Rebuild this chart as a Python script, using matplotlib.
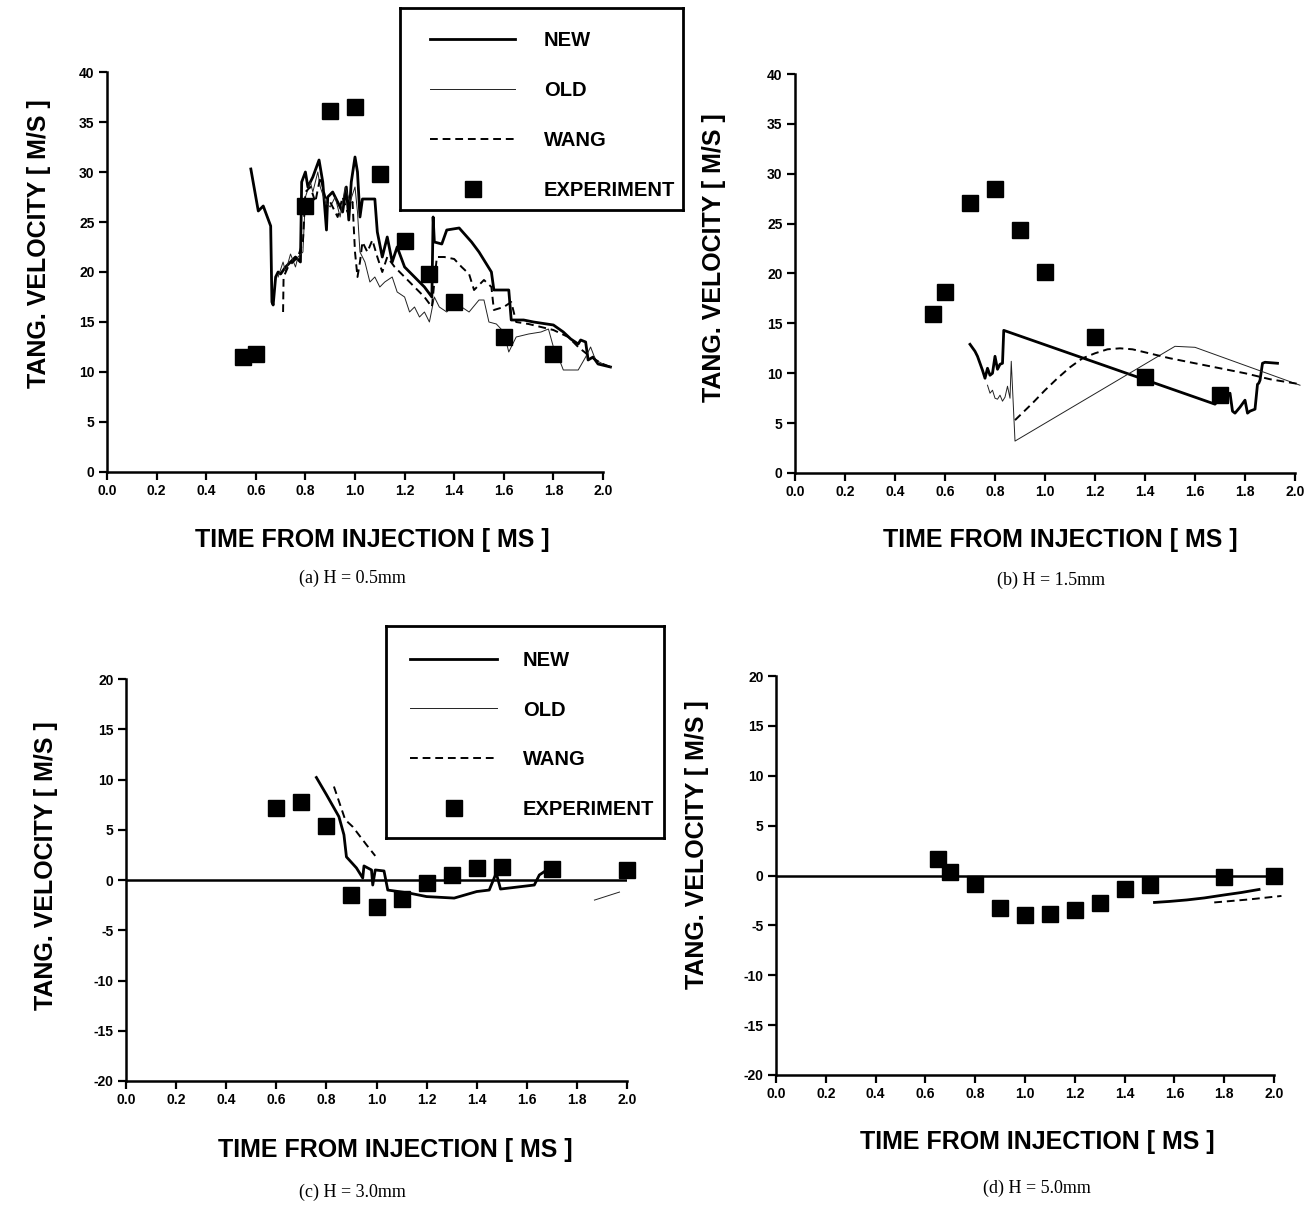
import matplotlib
matplotlib.use("Agg")
import matplotlib.pyplot as plt
from matplotlib.lines import Line2D

W, H = 1314, 1205

# ---------------- data ----------------
x_ticks = [0.0, 0.2, 0.4, 0.6, 0.8, 1.0, 1.2, 1.4, 1.6, 1.8, 2.0]
x_tick_labels = ["0.0", "0.2", "0.4", "0.6", "0.8", "1.0", "1.2", "1.4", "1.6", "1.8", "2.0"]
y_ticks_ab = [0, 5, 10, 15, 20, 25, 30, 35, 40]
y_ticks_cd = [-20, -15, -10, -5, 0, 5, 10, 15, 20]

legend_labels = ["NEW", "OLD", "WANG", "EXPERIMENT"]
captions = ["(a) H = 0.5mm", "(b) H = 1.5mm", "(c) H = 3.0mm", "(d) H = 5.0mm"]
xlabel_text = "TIME FROM INJECTION [ MS ]"
ylabel_text = "TANG. VELOCITY [ M/S ]"

# (a) H = 0.5 mm
a_exp_t = [0.55, 0.60, 0.80, 0.90, 1.00, 1.10, 1.20, 1.30, 1.40, 1.60, 1.80]
a_exp_v = [11.5, 11.8, 26.6, 36.1, 36.5, 29.8, 23.1, 19.8, 17.0, 13.5, 11.8]
a_new_t = [0.58, 0.61, 0.63, 0.66, 0.665, 0.67, 0.68, 0.69, 0.70, 0.72, 0.74, 0.76, 0.78, 0.785,
           0.80, 0.81, 0.83, 0.855, 0.87, 0.885, 0.89, 0.91, 0.93, 0.95, 0.965, 0.975, 0.985,
           1.00, 1.01, 1.02, 1.03, 1.08, 1.09, 1.11, 1.13, 1.15, 1.17, 1.20, 1.24, 1.28, 1.31,
           1.315, 1.32, 1.35, 1.37, 1.42, 1.47, 1.50, 1.55, 1.56, 1.62, 1.63, 1.68, 1.72, 1.80,
           1.84, 1.87, 1.90, 1.91, 1.93, 1.94, 1.96, 1.98, 2.03]
a_new_v = [30.3, 26.1, 26.6, 24.6, 17.0, 16.7, 19.5, 20.0, 19.8, 20.5, 21.0, 21.5, 21.0, 29.0,
           30.0, 28.5, 29.5, 31.2, 29.0, 24.2, 27.5, 28.0, 27.0, 26.0, 28.5, 25.2, 29.0,
           31.5, 30.0, 25.5, 27.3, 27.3, 24.0, 21.5, 23.5, 21.0, 22.5, 20.5, 19.5, 18.5, 17.5,
           25.5, 23.0, 22.8, 24.2, 24.4, 23.0, 22.0, 20.0, 18.2, 18.2, 15.2, 15.2, 15.0, 14.7,
           14.0, 13.3, 12.8, 13.2, 13.0, 11.2, 11.5, 10.8, 10.5]
a_old_t = [0.69, 0.71, 0.72, 0.74, 0.76, 0.77, 0.79, 0.80, 0.82, 0.83, 0.85, 0.86, 0.88, 0.90,
           0.92, 0.94, 0.96, 0.98, 1.00, 1.01, 1.02, 1.04, 1.06, 1.08, 1.10, 1.12, 1.15, 1.17,
           1.20, 1.22, 1.24, 1.26, 1.28, 1.30, 1.32, 1.34, 1.37, 1.40, 1.43, 1.46, 1.48, 1.50,
           1.52, 1.54, 1.57, 1.60, 1.62, 1.63, 1.65, 1.70, 1.75, 1.78, 1.80, 1.82, 1.84, 1.90,
           1.93, 1.95, 1.97, 2.00, 2.03]
a_old_v = [19.5, 21.0, 20.0, 21.8, 20.5, 21.5, 22.0, 27.5, 29.0, 28.0, 30.0, 28.5, 27.0, 26.5,
           27.5, 25.5, 28.5, 27.0, 28.5, 26.0, 22.0, 21.0, 19.0, 19.5, 18.5, 19.0, 19.5, 18.0,
           17.5, 16.0, 16.5, 15.5, 16.0, 15.0, 17.5, 16.5, 16.0, 16.8, 16.5, 16.0, 16.6, 17.2,
           17.2, 15.0, 14.8, 14.0, 12.0, 12.5, 13.5, 13.8, 14.0, 14.3, 12.5, 11.5, 10.2, 10.2,
           11.5, 12.5, 11.2, 10.8, 10.5]
a_wang_t = [0.71, 0.712, 0.73, 0.75, 0.77, 0.79, 0.80, 0.82, 0.84, 0.86, 0.88, 0.90, 0.93, 0.95,
            0.97, 0.99, 1.00, 1.01, 1.02, 1.03, 1.05, 1.07, 1.09, 1.11, 1.13, 1.16, 1.20, 1.24,
            1.28, 1.31, 1.33, 1.36, 1.40, 1.43, 1.46, 1.48, 1.52, 1.55, 1.56, 1.60, 1.63, 1.65,
            1.70, 1.80, 1.86, 1.90, 1.95, 2.00, 2.03]
a_wang_v = [16.0, 19.5, 20.5, 21.0, 21.5, 23.0, 28.0, 28.5, 27.0, 29.5, 27.5, 27.0, 25.5, 27.5,
            26.0, 27.0, 22.0, 19.5, 21.0, 23.0, 22.0, 23.2, 21.5, 20.0, 21.5, 20.5, 19.5, 18.5,
            17.5, 16.5, 21.5, 21.5, 21.3, 20.5, 19.8, 18.2, 19.2, 18.5, 16.2, 16.5, 17.0, 15.0,
            14.8, 14.2, 13.5, 12.5, 11.5, 10.8, 10.5]

# (b) H = 1.5 mm
b_exp_t = [0.55, 0.60, 0.70, 0.80, 0.90, 1.00, 1.20, 1.40, 1.70]
b_exp_v = [15.9, 18.1, 27.1, 28.5, 24.4, 20.2, 13.6, 9.6, 7.8]
b_new_t = [0.70, 0.72, 0.73, 0.75, 0.76, 0.77, 0.78, 0.79, 0.80, 0.81, 0.82, 0.83, 0.835,
           1.68, 1.70, 1.73, 1.74, 1.75, 1.76, 1.78, 1.80, 1.81, 1.82, 1.84, 1.85, 1.855,
           1.86, 1.87, 1.88, 1.93]
b_new_v = [12.9, 12.2, 11.7, 10.3, 9.5, 10.5, 9.8, 10.0, 11.7, 10.4, 10.9, 11.0, 14.3,
           6.9, 7.5, 7.8, 8.0, 6.2, 6.0, 6.6, 7.3, 6.0, 6.2, 6.4, 8.9, 9.0,
           9.3, 11.0, 11.1, 11.0]
b_old_t = [0.77, 0.78, 0.79, 0.80, 0.81, 0.82, 0.83, 0.84, 0.85, 0.86, 0.865, 0.88, 1.52, 1.60, 2.02]
b_old_v = [8.8, 8.0, 8.3, 7.5, 7.4, 7.8, 7.2, 7.6, 8.7, 7.5, 11.2, 3.2, 12.7, 12.6, 8.8]
b_wang_t = [0.88, 0.95, 1.00, 1.05, 1.10, 1.15, 1.20, 1.25, 1.30, 1.35, 1.40, 1.50, 1.60, 1.70,
            1.80, 1.90, 2.02]
b_wang_v = [5.3, 7.0, 8.3, 9.5, 10.6, 11.5, 12.0, 12.4, 12.5, 12.4, 12.1, 11.5, 11.0, 10.5,
            10.0, 9.4, 8.9]

# (c) H = 3.0 mm
c_exp_t = [0.60, 0.70, 0.80, 0.90, 1.00, 1.10, 1.20, 1.30, 1.40, 1.50, 1.70, 2.00]
c_exp_v = [7.2, 7.8, 5.4, -1.5, -2.7, -1.9, -0.3, 0.5, 1.2, 1.3, 1.1, 1.0]
c_new_t = [0.76, 0.80, 0.85, 0.87, 0.88, 0.92, 0.945, 0.95, 0.98, 0.985, 0.995, 1.03, 1.045,
           1.13, 1.20, 1.31, 1.40, 1.45, 1.478, 1.495, 1.63, 1.65, 1.68]
c_new_v = [10.2, 8.5, 6.3, 4.5, 2.3, 1.2, 0.2, 1.4, 1.0, -0.5, 1.0, 0.9, -1.0,
           -1.3, -1.65, -1.8, -1.15, -1.0, 0.7, -0.9, -0.5, 0.5, 1.0]
c_old_t = [1.87, 1.92, 1.97]
c_old_v = [-2.0, -1.6, -1.2]
c_wang_t = [0.83, 0.875, 0.905, 0.96, 0.995]
c_wang_v = [9.3, 6.0, 5.3, 3.5, 2.4]

# (d) H = 5.0 mm
d_exp_t = [0.65, 0.70, 0.80, 0.90, 1.00, 1.10, 1.20, 1.30, 1.40, 1.50, 1.80, 2.00]
d_exp_v = [1.7, 0.4, -0.9, -3.3, -4.0, -3.9, -3.5, -2.8, -1.4, -1.0, -0.2, 0.0]
d_new_t = [1.52, 1.58, 1.65, 1.72, 1.80, 1.87, 1.94]
d_new_v = [-2.7, -2.6, -2.45, -2.25, -1.95, -1.7, -1.4]
d_wang_t = [1.76, 1.90, 2.03]
d_wang_v = [-2.7, -2.4, -2.05]

# ---------------- styles ----------------
SANS = ["Liberation Sans", "DejaVu Sans"]
TICKFONT = ["Liberation Sans Narrow", "Liberation Sans", "DejaVu Sans"]
SERIF = ["Liberation Serif", "DejaVu Serif"]
NEW_STYLE = dict(color="black", lw=2.0, ls="-")
OLD_STYLE = dict(color="#222222", lw=0.7, ls="-")
WANG_STYLE = dict(color="black", lw=1.4, ls=(0, (4, 2.5)))
EXP_STYLE = dict(color="black", marker="s", ms=12, ls="none")

fig = plt.figure(figsize=(W / 100, H / 100), dpi=100)
fig.patch.set_facecolor("white")


def px_rect(left, right, top, bottom):
    return [left / W, 1 - bottom / H, (right - left) / W, (bottom - top) / H]


def style_axes(ax, yticks):
    ax.set_xlim(0, 2.0)
    ax.set_ylim(yticks[0], yticks[-1])
    for s in ("top", "right"):
        ax.spines[s].set_visible(False)
    for s in ("left", "bottom"):
        ax.spines[s].set_linewidth(1.8)
    ax.set_xticks(x_ticks)
    ax.set_xticklabels(x_tick_labels)
    ax.set_yticks(yticks)
    ax.set_yticklabels([str(v) for v in yticks])
    ax.tick_params(direction="out", length=6, width=1.6, pad=3, labelsize=10)
    for lab in ax.get_xticklabels() + ax.get_yticklabels():
        lab.set_family(TICKFONT)
        lab.set_fontweight("bold")


def plot_panel(ax, new, old, wang, exp, zero_line):
    if zero_line:
        ax.axhline(0, color="black", lw=1.8, zorder=2)
    if new is not None:
        ax.plot(new[0], new[1], clip_on=False, zorder=3, **NEW_STYLE)
    if old is not None:
        ax.plot(old[0], old[1], clip_on=False, zorder=3, **OLD_STYLE)
    if wang is not None:
        ax.plot(wang[0], wang[1], clip_on=False, zorder=3, **WANG_STYLE)
    ax.plot(exp[0], exp[1], clip_on=False, zorder=4, **EXP_STYLE)


ax_a = fig.add_axes(px_rect(107, 603, 72, 472))
ax_b = fig.add_axes(px_rect(795, 1295, 74, 473))
ax_c = fig.add_axes(px_rect(126, 627, 679, 1081))
ax_d = fig.add_axes(px_rect(776, 1274, 676, 1075))

style_axes(ax_a, y_ticks_ab)
style_axes(ax_b, y_ticks_ab)
style_axes(ax_c, y_ticks_cd)
style_axes(ax_d, y_ticks_cd)

plot_panel(ax_a, (a_new_t, a_new_v), (a_old_t, a_old_v), (a_wang_t, a_wang_v), (a_exp_t, a_exp_v), False)
plot_panel(ax_b, (b_new_t, b_new_v), (b_old_t, b_old_v), (b_wang_t, b_wang_v), (b_exp_t, b_exp_v), False)
plot_panel(ax_c, (c_new_t, c_new_v), (c_old_t, c_old_v), (c_wang_t, c_wang_v), (c_exp_t, c_exp_v), True)
plot_panel(ax_d, (d_new_t, d_new_v), None, (d_wang_t, d_wang_v), (d_exp_t, d_exp_v), True)


def ftext(x, y, s, **kw):
    fig.text(x / W, 1 - y / H, s, ha="center", va="center", **kw)


label_pos = [
    ((39, 244), (372, 540), (352, 578)),
    ((714, 258), (1060, 540), (1051, 580)),
    ((46, 866), (395, 1150), (352, 1192)),
    ((697, 845), (1037, 1142), (1037, 1188)),
]
for (yl, xl, cp), cap in zip(label_pos, captions):
    ftext(yl[0], yl[1], ylabel_text, rotation=90, family=SANS, fontsize=18, fontweight="bold")
    ftext(xl[0], xl[1], xlabel_text, family=SANS, fontsize=18, fontweight="bold")
    ftext(cp[0], cp[1], cap, family=SERIF, fontsize=13)

handles = [Line2D([], [], **NEW_STYLE), Line2D([], [], **OLD_STYLE),
           Line2D([], [], **WANG_STYLE), Line2D([], [], **EXP_STYLE)]

LEG_FS = 14.5
FS_PX = LEG_FS * 100 / 72


def add_legend(box, handle_left, handle_right, text_left, first_row, row_step):
    bax = fig.add_axes(px_rect(*box))
    bax.set_xticks([])
    bax.set_yticks([])
    for sp in bax.spines.values():
        sp.set_linewidth(2.0)
    bax.patch.set_facecolor("white")
    row_h = 0.92 * FS_PX
    leg = bax.legend(handles, legend_labels, loc="upper left",
                     bbox_to_anchor=(handle_left / W, 1 - (first_row - row_h / 2) / H),
                     bbox_transform=fig.transFigure, frameon=False,
                     borderpad=0, borderaxespad=0,
                     handlelength=(handle_right - handle_left) / FS_PX,
                     handletextpad=(text_left - handle_right) / FS_PX,
                     labelspacing=(row_step - row_h) / FS_PX, numpoints=1,
                     prop={"family": SANS, "size": LEG_FS, "weight": "bold"})
    return leg


add_legend((400, 683, 8, 210), 430, 515, 544, 40, 49.5)
add_legend((386, 664, 626, 838), 410, 497, 523, 660, 49.3)

fig.savefig("out.png", dpi=100, facecolor="white")
